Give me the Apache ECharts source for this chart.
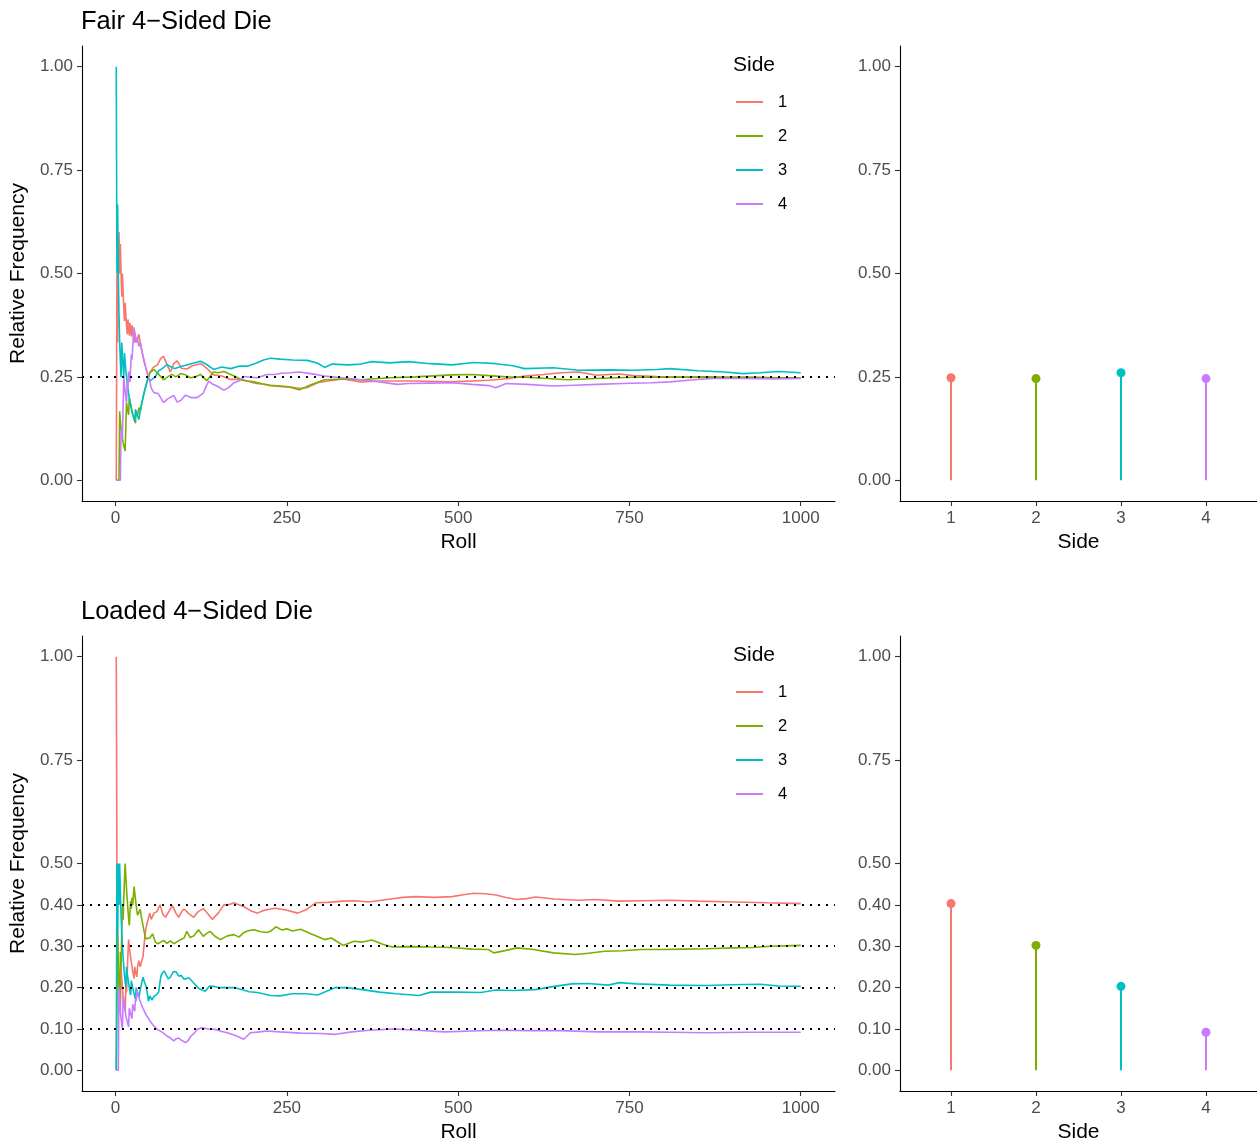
<!DOCTYPE html>
<html>
<head>
    <meta charset="UTF-8">
    <title>4-Sided Die</title>
    <script src="https://cdn.jsdelivr.net/npm/echarts@6/dist/echarts.min.js"></script>
    <style>
        html, body { margin: 0; padding: 0; background: #fff; }
        #chart { width: 1257px; height: 1141px; }
    </style>
</head>
<body>
<div id="chart"></div>
<script type="text/javascript">
    // sides and colours
    var sideNames = ['1', '2', '3', '4'];
    var sideColors = ['#F8766D', '#7CAE00', '#00BFC4', '#C77CFF'];
    // ticks
    var rollTicks = [0, 250, 500, 750, 1000];
    var sideTicks = [1, 2, 3, 4];
    var fairTicks = [0, 0.25, 0.5, 0.75, 1];
    var loadedTicks = [0, 0.1, 0.2, 0.3, 0.4, 0.5, 0.75, 1];
    // dotted reference lines (true probabilities)
    var fairRefLines = [0.25];
    var loadedRefLines = [0.1, 0.2, 0.3, 0.4];

    // fair die: [roll, relative frequency]
    var fairSide1 = [[1,0],[2,0.5],[3,0.333],[4,0.5],[5,0.6],[6,0.5],[7,0.571],[8,0.5],[9,0.444],[10,0.5],[11,0.455],[12,0.417],[13,0.385],[14,0.429],[15,0.4],[16,0.375],[17,0.353],[18,0.389],[19,0.368],[20,0.35],[21,0.381],[22,0.364],[23,0.348],[24,0.375],[25,0.36],[26,0.346],[27,0.333],[28,0.357],[29,0.345],[30,0.333],[32,0.344],[34,0.353],[36,0.333],[38,0.316],[40,0.3],[42,0.286],[44,0.273],[46,0.261],[48,0.25],[50,0.26],[55,0.273],[61,0.279],[66,0.295],[70,0.3],[74,0.284],[80,0.262],[85,0.282],[90,0.289],[96,0.271],[104,0.269],[112,0.277],[124,0.282],[133,0.271],[143,0.255],[155,0.252],[168,0.244],[180,0.244],[192,0.24],[205,0.234],[215,0.233],[226,0.229],[240,0.227],[258,0.225],[270,0.222],[279,0.224],[295,0.236],[310,0.24],[332,0.245],[358,0.238],[390,0.24],[437,0.24],[490,0.238],[545,0.242],[575,0.246],[597,0.252],[625,0.256],[650,0.26],[676,0.262],[702,0.254],[735,0.257],[756,0.253],[790,0.251],[809,0.25],[862,0.248],[920,0.249],[960,0.248],[1000,0.248]];
    var fairSide2 = [[1,0],[5,0],[6,0.167],[7,0.143],[8,0.125],[9,0.111],[10,0.1],[11,0.091],[12,0.083],[13,0.077],[14,0.071],[15,0.133],[16,0.188],[17,0.176],[18,0.167],[19,0.158],[20,0.2],[21,0.19],[22,0.182],[23,0.174],[24,0.167],[25,0.16],[26,0.154],[27,0.148],[28,0.143],[29,0.138],[30,0.167],[32,0.156],[34,0.176],[36,0.167],[38,0.184],[40,0.2],[42,0.214],[44,0.227],[46,0.239],[48,0.25],[50,0.26],[53,0.264],[56,0.268],[62,0.258],[70,0.243],[76,0.25],[82,0.256],[88,0.25],[95,0.258],[102,0.255],[109,0.248],[116,0.25],[124,0.256],[133,0.241],[143,0.262],[150,0.26],[158,0.263],[168,0.256],[175,0.251],[182,0.244],[192,0.24],[202,0.238],[215,0.233],[226,0.23],[240,0.228],[252,0.226],[268,0.219],[277,0.225],[285,0.231],[305,0.243],[332,0.245],[358,0.243],[400,0.248],[437,0.25],[470,0.253],[491,0.255],[520,0.256],[545,0.253],[570,0.25],[597,0.249],[630,0.246],[660,0.243],[700,0.246],[756,0.249],[800,0.249],[862,0.25],[920,0.249],[1000,0.247]];
    var fairSide3 = [[1,1],[2,0.5],[3,0.667],[4,0.5],[5,0.4],[6,0.333],[7,0.286],[8,0.25],[9,0.333],[10,0.3],[11,0.273],[12,0.25],[13,0.308],[14,0.286],[15,0.267],[16,0.25],[17,0.235],[18,0.222],[19,0.211],[20,0.2],[21,0.19],[22,0.182],[23,0.174],[24,0.167],[25,0.16],[26,0.154],[27,0.148],[28,0.143],[29,0.172],[30,0.167],[32,0.156],[34,0.147],[36,0.167],[38,0.184],[40,0.2],[42,0.214],[44,0.227],[46,0.239],[48,0.25],[50,0.24],[54,0.245],[58,0.25],[63,0.265],[68,0.27],[75,0.28],[80,0.275],[86,0.27],[95,0.275],[104,0.279],[113,0.283],[124,0.288],[133,0.28],[143,0.268],[155,0.274],[168,0.27],[180,0.276],[192,0.276],[205,0.283],[216,0.291],[226,0.295],[240,0.293],[258,0.291],[280,0.29],[295,0.283],[305,0.273],[316,0.281],[340,0.279],[358,0.281],[374,0.287],[400,0.284],[427,0.287],[460,0.282],[491,0.279],[523,0.285],[555,0.282],[580,0.277],[597,0.27],[639,0.272],[676,0.266],[720,0.267],[756,0.266],[790,0.268],[809,0.27],[850,0.265],[889,0.262],[916,0.258],[940,0.26],[968,0.263],[1000,0.26]];
    var fairSide4 = [[1,0],[7,0],[8,0.125],[9,0.111],[10,0.1],[11,0.182],[12,0.25],[13,0.231],[14,0.214],[15,0.2],[16,0.188],[17,0.235],[18,0.222],[19,0.263],[20,0.25],[21,0.238],[22,0.273],[23,0.304],[24,0.292],[25,0.32],[26,0.346],[27,0.37],[28,0.357],[29,0.345],[30,0.333],[32,0.344],[34,0.324],[36,0.333],[38,0.316],[40,0.3],[42,0.286],[44,0.273],[46,0.261],[48,0.25],[50,0.24],[52,0.223],[56,0.212],[62,0.21],[70,0.188],[76,0.197],[85,0.205],[90,0.189],[95,0.193],[102,0.206],[110,0.2],[119,0.2],[128,0.211],[133,0.23],[136,0.24],[142,0.232],[148,0.228],[158,0.218],[165,0.224],[173,0.236],[180,0.24],[187,0.251],[197,0.249],[207,0.248],[221,0.256],[232,0.256],[242,0.259],[255,0.26],[268,0.262],[285,0.258],[305,0.252],[330,0.248],[358,0.243],[385,0.238],[411,0.232],[427,0.234],[460,0.235],[491,0.236],[520,0.232],[545,0.229],[555,0.224],[570,0.234],[600,0.232],[639,0.228],[670,0.23],[702,0.232],[740,0.234],[782,0.236],[810,0.238],[836,0.242],[870,0.246],[916,0.246],[960,0.245],[1000,0.246]];

    // loaded die: [roll, relative frequency]
    var loadedSide1 = [[1,1],[2,0.5],[3,0.333],[4,0.25],[5,0.2],[6,0.167],[7,0.143],[8,0.25],[9,0.222],[10,0.2],[11,0.182],[12,0.167],[13,0.154],[14,0.143],[15,0.2],[16,0.188],[17,0.235],[18,0.278],[19,0.316],[20,0.3],[21,0.286],[22,0.273],[23,0.261],[24,0.25],[25,0.24],[26,0.231],[27,0.222],[28,0.25],[29,0.241],[30,0.233],[31,0.226],[32,0.25],[34,0.265],[36,0.25],[38,0.263],[40,0.275],[42,0.31],[44,0.341],[47,0.362],[50,0.38],[52,0.365],[56,0.38],[60,0.383],[65,0.4],[69,0.377],[73,0.37],[78,0.385],[83,0.398],[88,0.38],[92,0.37],[97,0.385],[100,0.39],[106,0.38],[114,0.37],[120,0.383],[128,0.391],[135,0.378],[141,0.365],[150,0.38],[158,0.4],[165,0.4],[173,0.405],[180,0.4],[187,0.396],[197,0.386],[207,0.38],[215,0.386],[226,0.39],[234,0.392],[250,0.387],[266,0.38],[279,0.389],[292,0.405],[310,0.406],[332,0.409],[350,0.41],[369,0.407],[396,0.413],[420,0.418],[438,0.42],[465,0.418],[491,0.42],[510,0.425],[523,0.428],[540,0.427],[555,0.424],[570,0.418],[586,0.413],[600,0.415],[613,0.419],[640,0.414],[676,0.411],[700,0.413],[735,0.409],[770,0.41],[809,0.411],[850,0.409],[904,0.407],[950,0.405],[1000,0.403]];
    var loadedSide2 = [[1,0],[2,0],[3,0.333],[4,0.25],[5,0.2],[6,0.167],[7,0.286],[8,0.25],[9,0.333],[10,0.4],[11,0.364],[12,0.417],[13,0.462],[14,0.5],[15,0.467],[16,0.438],[17,0.412],[18,0.389],[19,0.368],[20,0.35],[21,0.381],[22,0.409],[23,0.391],[24,0.417],[25,0.4],[26,0.423],[27,0.444],[28,0.429],[29,0.414],[30,0.4],[31,0.387],[32,0.375],[34,0.382],[36,0.389],[38,0.368],[40,0.35],[42,0.333],[44,0.318],[47,0.319],[50,0.32],[54,0.33],[58,0.31],[62,0.306],[66,0.31],[70,0.314],[75,0.307],[80,0.313],[85,0.306],[90,0.311],[95,0.316],[100,0.32],[104,0.336],[109,0.321],[114,0.325],[121,0.34],[128,0.324],[133,0.331],[138,0.336],[145,0.324],[153,0.316],[163,0.325],[173,0.328],[180,0.322],[187,0.333],[195,0.338],[202,0.34],[212,0.335],[221,0.333],[226,0.336],[234,0.347],[243,0.339],[250,0.342],[258,0.337],[270,0.341],[285,0.33],[305,0.316],[315,0.32],[332,0.302],[348,0.312],[360,0.31],[374,0.315],[390,0.305],[404,0.298],[430,0.299],[459,0.298],[490,0.297],[520,0.293],[544,0.292],[552,0.284],[570,0.29],[586,0.296],[610,0.292],[639,0.284],[671,0.28],[690,0.283],[714,0.288],[740,0.289],[767,0.292],[800,0.292],[830,0.293],[862,0.294],[900,0.296],[930,0.297],[957,0.3],[1000,0.302]];
    var loadedSide3 = [[1,0],[2,0.5],[3,0.333],[4,0.5],[5,0.4],[6,0.5],[7,0.429],[8,0.375],[9,0.333],[10,0.3],[11,0.273],[12,0.25],[13,0.231],[14,0.214],[15,0.2],[16,0.25],[17,0.235],[18,0.222],[19,0.211],[20,0.2],[21,0.19],[22,0.182],[23,0.217],[24,0.208],[25,0.2],[26,0.192],[27,0.185],[28,0.179],[29,0.172],[30,0.2],[31,0.194],[32,0.188],[34,0.176],[36,0.194],[38,0.211],[40,0.225],[42,0.214],[45,0.2],[48,0.167],[50,0.18],[53,0.17],[56,0.179],[60,0.183],[63,0.19],[66,0.227],[68,0.235],[71,0.24],[74,0.23],[77,0.221],[80,0.225],[84,0.238],[88,0.239],[92,0.228],[96,0.229],[100,0.22],[107,0.224],[114,0.211],[122,0.197],[131,0.191],[137,0.204],[143,0.203],[150,0.2],[160,0.2],[173,0.2],[185,0.195],[195,0.19],[207,0.188],[215,0.185],[226,0.181],[240,0.18],[258,0.185],[279,0.185],[295,0.182],[321,0.2],[337,0.2],[360,0.195],[385,0.189],[410,0.185],[443,0.181],[460,0.189],[500,0.189],[533,0.188],[555,0.194],[580,0.193],[613,0.195],[640,0.203],[666,0.209],[690,0.21],[719,0.206],[735,0.212],[760,0.209],[809,0.206],[862,0.205],[900,0.207],[941,0.208],[968,0.204],[1000,0.203]];
    var loadedSide4 = [[1,0],[4,0],[5,0.2],[6,0.167],[7,0.143],[8,0.125],[9,0.111],[10,0.1],[11,0.182],[12,0.167],[13,0.154],[14,0.143],[15,0.133],[16,0.125],[17,0.118],[18,0.111],[19,0.105],[20,0.15],[21,0.143],[22,0.136],[23,0.13],[24,0.125],[25,0.16],[26,0.154],[27,0.148],[28,0.143],[29,0.172],[30,0.167],[31,0.194],[32,0.188],[34,0.176],[36,0.167],[38,0.158],[40,0.15],[42,0.143],[44,0.136],[47,0.128],[50,0.12],[55,0.109],[61,0.099],[66,0.094],[70,0.09],[75,0.083],[80,0.078],[85,0.071],[88,0.076],[92,0.078],[97,0.072],[102,0.067],[106,0.072],[110,0.083],[115,0.09],[119,0.099],[126,0.103],[135,0.1],[145,0.099],[155,0.094],[163,0.091],[175,0.084],[183,0.078],[187,0.075],[192,0.083],[197,0.091],[210,0.093],[221,0.095],[240,0.093],[270,0.09],[300,0.089],[321,0.087],[345,0.093],[370,0.097],[407,0.1],[440,0.097],[480,0.093],[520,0.095],[560,0.097],[600,0.096],[650,0.096],[703,0.093],[760,0.093],[809,0.092],[862,0.091],[920,0.092],[960,0.092],[1000,0.092]];

    // final relative frequency per side (lollipops)
    var fairFinal = [0.248, 0.246, 0.260, 0.246];
    var loadedFinal = [0.403, 0.302, 0.203, 0.092];

    var fontFamily = '"Liberation Sans", Arial, sans-serif';

    function xAxisFor(gridIndex, min, max, ticks, name) {
        return {
            type: 'value', gridIndex: gridIndex, min: min, max: max,
            name: name, nameLocation: 'middle', nameGap: 31,
            nameTextStyle: {fontSize: 21, color: '#000', fontFamily: fontFamily},
            axisLine: {show: true, onZero: false, lineStyle: {color: '#000', width: 1.1}},
            axisTick: {show: true, length: 5, customValues: ticks, lineStyle: {color: '#333', width: 1.1}},
            axisLabel: {
                show: true, margin: 9, customValues: ticks, fontSize: 17, color: '#4D4D4D', fontFamily: fontFamily,
                formatter: function (v) { return String(v); }
            },
            splitLine: {show: false}
        };
    }

    function yAxisFor(gridIndex, ticks, name) {
        return {
            type: 'value', gridIndex: gridIndex, min: -0.05, max: 1.05,
            name: name, nameLocation: 'middle', nameGap: 50,
            nameTextStyle: {fontSize: 21, color: '#000', fontFamily: fontFamily},
            axisLine: {show: true, onZero: false, lineStyle: {color: '#000', width: 1.1}},
            axisTick: {show: true, length: 5, customValues: ticks, lineStyle: {color: '#333', width: 1.1}},
            axisLabel: {
                show: true, margin: 9, customValues: ticks, fontSize: 17, color: '#4D4D4D', fontFamily: fontFamily,
                formatter: function (v) { return v.toFixed(2); }
            },
            splitLine: {show: false}
        };
    }

    function lineSeries(name, data, idx, axisIndex, refLines) {
        var s = {
            name: name, type: 'line', data: data,
            xAxisIndex: axisIndex, yAxisIndex: axisIndex,
            showSymbol: false, symbol: 'none', silent: true,
            lineStyle: {color: sideColors[idx], width: 1.6},
            itemStyle: {color: sideColors[idx]}
        };
        if (refLines) {
            s.markLine = {
                silent: true, symbol: ['none', 'none'], label: {show: false},
                lineStyle: {color: '#000', type: [2, 6], width: 2, cap: 'butt'},
                data: refLines.map(function (v) { return {yAxis: v}; })
            };
        }
        return s;
    }

    function lollipopSeries(values, axisIndex) {
        var pts = values.map(function (v, i) {
            return {value: [sideTicks[i], v], itemStyle: {color: sideColors[i], opacity: 1}};
        });
        return [
            {type: 'bar', data: pts, barWidth: 2, xAxisIndex: axisIndex, yAxisIndex: axisIndex, silent: true},
            {type: 'scatter', data: pts, symbolSize: 9, xAxisIndex: axisIndex, yAxisIndex: axisIndex, silent: true}
        ];
    }

    function legendAt(top) {
        return {
            left: 736, top: top, padding: 0, orient: 'vertical', data: sideNames, selectedMode: false,
            icon: 'rect', itemWidth: 27, itemHeight: 2, itemGap: 14,
            textStyle: {fontSize: 16.5, color: '#000', lineHeight: 20, padding: [0, 0, 0, 10], fontFamily: fontFamily}
        };
    }

    var fairData = [fairSide1, fairSide2, fairSide3, fairSide4];
    var loadedData = [loadedSide1, loadedSide2, loadedSide3, loadedSide4];

    var series = [];
    fairData.forEach(function (d, i) { series.push(lineSeries(sideNames[i], d, i, 0, i === 0 ? fairRefLines : null)); });
    loadedData.forEach(function (d, i) { series.push(lineSeries(sideNames[i], d, i, 2, i === 0 ? loadedRefLines : null)); });
    series = series.concat(lollipopSeries(fairFinal, 1), lollipopSeries(loadedFinal, 3));

    var chart = echarts.init(document.getElementById('chart'));
    chart.setOption({
        animation: false,
        backgroundColor: '#fff',
        textStyle: {fontFamily: fontFamily},
        title: [
            {text: 'Fair 4\u2212Sided Die', left: 81, top: 9, padding: 0, textStyle: {fontSize: 25.5, fontWeight: 'normal', color: '#000'}},
            {text: 'Loaded 4\u2212Sided Die', left: 81, top: 599, padding: 0, textStyle: {fontSize: 25.5, fontWeight: 'normal', color: '#000'}},
            {text: 'Side', left: 733, top: 55, padding: 0, textStyle: {fontSize: 21, fontWeight: 'normal', color: '#000'}},
            {text: 'Side', left: 733, top: 645, padding: 0, textStyle: {fontSize: 21, fontWeight: 'normal', color: '#000'}}
        ],
        legend: [legendAt(92), legendAt(682)],
        grid: [
            {left: 82, top: 46, width: 753, height: 455, outerBoundsMode: 'none'},
            {left: 900, top: 46, width: 357, height: 455, outerBoundsMode: 'none'},
            {left: 82, top: 636, width: 753, height: 455, outerBoundsMode: 'none'},
            {left: 900, top: 636, width: 357, height: 455, outerBoundsMode: 'none'}
        ],
        xAxis: [
            xAxisFor(0, -49, 1050, rollTicks, 'Roll'),
            xAxisFor(1, 0.4, 4.6, sideTicks, 'Side'),
            xAxisFor(2, -49, 1050, rollTicks, 'Roll'),
            xAxisFor(3, 0.4, 4.6, sideTicks, 'Side')
        ],
        yAxis: [
            yAxisFor(0, fairTicks, 'Relative Frequency'),
            yAxisFor(1, fairTicks, ''),
            yAxisFor(2, loadedTicks, 'Relative Frequency'),
            yAxisFor(3, loadedTicks, '')
        ],
        series: series
    });
</script>
</body>
</html>
